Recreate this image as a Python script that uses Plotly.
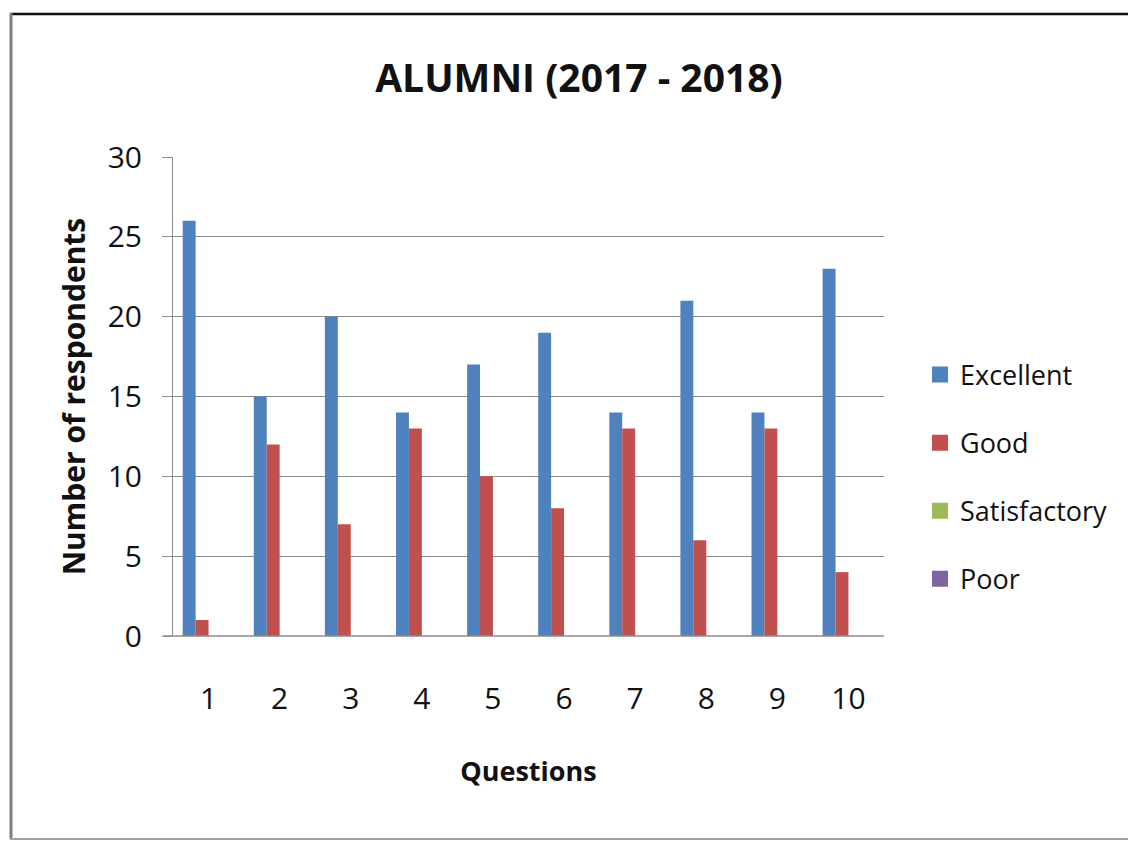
import plotly.graph_objects as go

questions = ["1", "2", "3", "4", "5", "6", "7", "8", "9", "10"]
excellent = [26, 15, 20, 14, 17, 19, 14, 21, 14, 23]
good = [1, 12, 7, 13, 10, 8, 13, 6, 13, 4]
satisfactory = [0, 0, 0, 0, 0, 0, 0, 0, 0, 0]
poor = [0, 0, 0, 0, 0, 0, 0, 0, 0, 0]

series = [
    ("Excellent", excellent, "#4F81BD"),
    ("Good", good, "#C0504D"),
    ("Satisfactory", satisfactory, "#9BBB59"),
    ("Poor", poor, "#8064A2"),
]

FONT = "Open Sans"
TXT = "#111111"
fig = go.Figure()
for name, vals, col in series:
    fig.add_trace(go.Bar(x=questions, y=vals, name=name, marker_color=col,
                         marker_line_width=0, legendgroup=name, showlegend=False))
# legend entries with larger square keys
for name, vals, col in series:
    fig.add_trace(go.Scatter(x=[None], y=[None], mode="markers", name=name, legendgroup=name,
                             marker=dict(symbol="square", size=16, color=col), showlegend=True))

L, R, T, B = 173, 244, 157, 205
W, H = 1128, 841
pw, ph = W - L - R, H - T - B

def px(x):
    return (x - L) / pw

def py(y):
    return (H - B - y) / ph

fig.update_layout(
    width=W, height=H,
    margin=dict(l=L, r=R, t=T, b=B),
    paper_bgcolor="white", plot_bgcolor="white",
    barmode="group", bargap=0.273, bargroupgap=0,
    font=dict(family=FONT, color=TXT),
    title=dict(text="<b>ALUMNI (2017 - 2018)</b>", x=px(579), xref="paper", xanchor="center",
               y=1 - 78 / H, yanchor="middle", font=dict(size=39, family=FONT, color=TXT)),
    legend=dict(x=px(920), xanchor="left", y=py(477), yanchor="middle",
                font=dict(size=27, family=FONT, color=TXT),
                tracegroupgap=30, itemwidth=30, bgcolor="rgba(0,0,0,0)"),
    showlegend=True,
)
fig.update_xaxes(showline=False, showgrid=False, ticks="", type="category",
                 tickfont=dict(size=30, family=FONT, color=TXT), ticklabelstandoff=42,
                 title=dict(text="<b>Questions</b>", font=dict(size=27, family=FONT, color=TXT),
                            standoff=45))
fig.update_yaxes(range=[0, 30], dtick=5, showgrid=True, gridcolor="#8C8C8C", gridwidth=1,
                 showline=True, linecolor="#8C8C8C", linewidth=1, ticks="outside", ticklen=10,
                 tickcolor="#8C8C8C", zeroline=False,
                 tickfont=dict(size=30, family=FONT, color=TXT), ticklabelstandoff=14,
                 title=dict(text="<b>Number of respondents</b>",
                            font=dict(size=30, family=FONT, color=TXT), standoff=13))

# baseline extending to the left tick
fig.add_shape(type="line", xref="paper", yref="paper", x0=px(163), x1=1, y0=0, y1=0,
              line=dict(color="#8C8C8C", width=1.5))
# outer frame
fig.add_shape(type="line", xref="paper", yref="paper", x0=px(10), x1=px(1130), y0=py(14), y1=py(14),
              line=dict(color="#111111", width=2.5))
fig.add_shape(type="line", xref="paper", yref="paper", x0=px(11), x1=px(11), y0=py(13), y1=py(839),
              line=dict(color="#7F7F7F", width=3))
fig.add_shape(type="line", xref="paper", yref="paper", x0=px(10), x1=px(1130), y0=py(839), y1=py(839),
              line=dict(color="#A0A0A0", width=2))

fig.write_html("out.html", config={"displayModeBar": False},
               post_script="document.body.style.margin='0';")
